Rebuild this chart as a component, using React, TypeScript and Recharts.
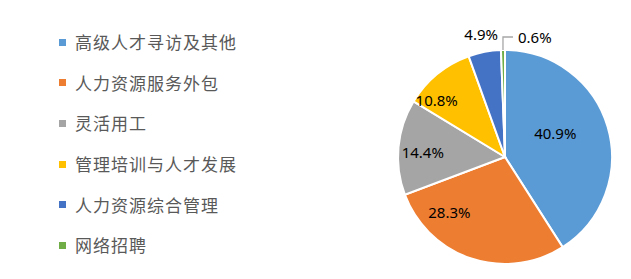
import { PieChart, Pie, Cell } from "recharts";

const categories = [
  "高级人才寻访及其他",
  "人力资源服务外包",
  "灵活用工",
  "管理培训与人才发展",
  "人力资源综合管理",
  "网络招聘",
];
const shares = [40.9, 28.3, 14.4, 10.8, 4.9, 0.6];
const shareLabels = ["40.9%", "28.3%", "14.4%", "10.8%", "4.9%", "0.6%"];

const COLORS = ["#5B9BD5", "#ED7D31", "#A5A5A5", "#FFC000", "#4472C4", "#70AD47"];
// label placement: angle shift (deg) and radius as a fraction of outer radius
const LABEL_SHIFT = [9, -27, 2, 11, 0, 0];
const LABEL_RADIUS = [0.52, 0.73, 0.77, 0.83, 1.17, 1.0];

const RADIAN = Math.PI / 180;
const data = categories.map((name, i) => ({ name, value: shares[i] }));

function renderLabel(props: any) {
  const { cx, cy, midAngle, outerRadius, index } = props;
  if (index === 5) {
    const sx = cx + outerRadius * Math.cos(-midAngle * RADIAN);
    const sy = cy + outerRadius * Math.sin(-midAngle * RADIAN);
    const ty = sy - 13;
    return (
      <g>
        <polyline
          points={`${sx},${sy} ${sx},${ty} ${sx + 10},${ty}`}
          fill="none"
          stroke="#A6A6A6"
          strokeWidth={1.3}
        />
        <text x={sx + 15} y={ty} fill="#000" fontSize={15} fontFamily="Noto Sans" dominantBaseline="central">
          {shareLabels[index]}
        </text>
      </g>
    );
  }
  const a = (midAngle + LABEL_SHIFT[index]) * RADIAN;
  const r = outerRadius * LABEL_RADIUS[index];
  const x = cx + r * Math.cos(-a);
  const y = cy + r * Math.sin(-a);
  return (
    <text x={x} y={y} fill="#000" fontSize={15} fontFamily="Noto Sans" textAnchor="middle" dominantBaseline="central">
      {shareLabels[index]}
    </text>
  );
}

function ChartLegend() {
  return (
    <div
      style={{
        position: "absolute",
        left: 59,
        top: 22,
        fontFamily: "'Noto Sans CJK SC', sans-serif",
      }}
    >
      {categories.map((name, i) => (
        <div key={name} style={{ display: "flex", alignItems: "center", height: 40.6 }}>
          <span
            style={{
              width: 7,
              height: 7,
              background: COLORS[i],
              display: "inline-block",
              marginRight: 9,
            }}
          />
          <span style={{ fontSize: 17, letterSpacing: 1, color: "#595959", lineHeight: "20px", whiteSpace: "nowrap" }}>
            {name}
          </span>
        </div>
      ))}
    </div>
  );
}

export default function App() {
  return (
    <div style={{ position: "absolute", left: 0, top: 0, width: 631, height: 279, background: "#fff" }}>
      <PieChart width={631} height={279} margin={{ top: 0, right: 0, bottom: 0, left: 0 }}>
        <Pie
          data={data}
          dataKey="value"
          nameKey="name"
          cx={505}
          cy={157}
          outerRadius={107}
          startAngle={90}
          endAngle={-270}
          stroke="#fff"
          strokeWidth={2}
          label={renderLabel}
          labelLine={false}
          isAnimationActive={false}
        >
          {data.map((_, i) => (
            <Cell key={i} fill={COLORS[i]} />
          ))}
        </Pie>
      </PieChart>
      <ChartLegend />
    </div>
  );
}
